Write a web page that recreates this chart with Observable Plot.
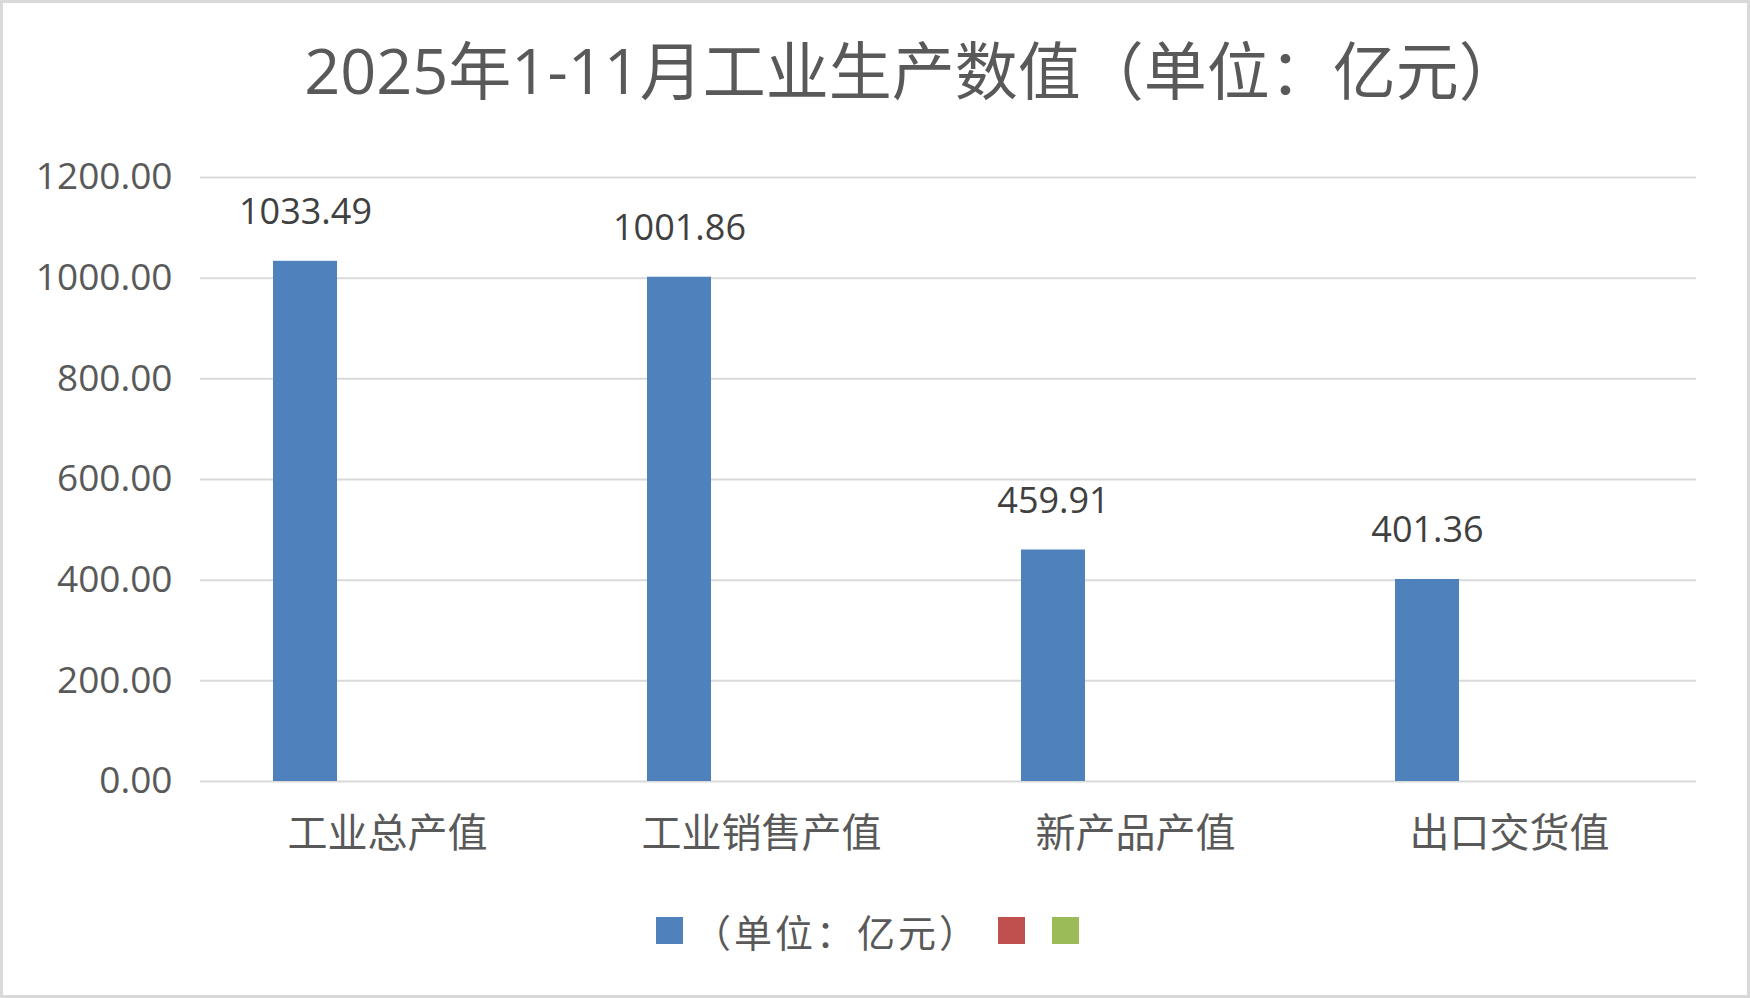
<!DOCTYPE html>
<html>
<head>
<meta charset="utf-8">
<script src="https://cdn.jsdelivr.net/npm/d3@7"></script>
<script src="https://cdn.jsdelivr.net/npm/@observablehq/plot@0.6"></script>
<style>
  html, body { margin: 0; padding: 0; background: #fff; }
  #wrap { position: relative; width: 1750px; height: 998px; background: #fff; overflow: hidden; }
  #frame { position: absolute; left: 0; top: 0; width: 1750px; height: 998px; box-sizing: border-box; border: 3px solid #d9d9d9; pointer-events: none; }
  #title { position: absolute; left: 38px; top: 38px; width: 1750px; text-align: center; font-size: 63px; line-height: 63px; color: #595959; font-family: "Open Sans", "Noto Sans CJK SC", sans-serif; white-space: nowrap; }
  #chart { position: absolute; left: 0; top: 110px; }
  #legend { position: absolute; left: 656px; top: 910px; height: 40px; display: flex; align-items: center; font-family: "Noto Sans CJK SC", sans-serif; font-size: 38px; letter-spacing: 3px; color: #595959; }
  .sw { width: 27px; height: 27px; display: inline-block; }
</style>
</head>
<body>
<div id="wrap">
  <div id="title"></div>
  <div id="chart"></div>
  <div id="legend"></div>
  <div id="frame"></div>
</div>
<script>
const titleText = "2025年1-11月工业生产数值（单位：亿元）";
const categories = ["工业总产值", "工业销售产值", "新产品产值", "出口交货值"];
const values = [1033.49, 1001.86, 459.91, 401.36];
const seriesIdx = [0, 1, 2];
const seriesLabels = ["（单位：亿元）", "", ""];
const seriesColors = ["#4f81bd", "#c0504d", "#9bbb59"];
const yTicks = [0, 200, 400, 600, 800, 1000, 1200];

document.getElementById("title").textContent = titleText;

const rows = categories.map((c, i) => ({category: c, series: 0, value: values[i]}));

const chart = Plot.plot({
  width: 1750,
  height: 760,
  marginTop: 67,
  marginBottom: 89,
  marginLeft: 198,
  marginRight: 53,
  style: {fontFamily: "'Open Sans','Noto Sans CJK SC',sans-serif", overflow: "visible", background: "transparent"},
  fx: {domain: categories, padding: 0},
  x: {domain: seriesIdx, paddingInner: 0.2157, paddingOuter: 0.8688, axis: null},
  y: {domain: [0, 1200]},
  color: {type: "ordinal", domain: seriesIdx, range: seriesColors},
  marks: [
    Plot.gridY(yTicks, {stroke: "#d9d9d9", strokeOpacity: 1, strokeWidth: 2}),
    Plot.axisY(yTicks, {tickSize: 0, tickPadding: 28, tickFormat: d => d.toFixed(2), fontSize: 37, fill: "#595959", label: null}),
    Plot.axisFx({anchor: "bottom", tickSize: 0, tickPadding: 37, fontSize: 40, fill: "#595959", label: null, fontFamily: "Noto Sans CJK SC"}),
    Plot.barY(rows, {fx: "category", x: "series", y: "value", fill: "series"}),
    Plot.text(rows, {fx: "category", x: "series", y: "value", text: d => d.value.toFixed(2), dy: -37, lineAnchor: "bottom", fontSize: 36, fill: "#404040"})
  ]
});
document.getElementById("chart").appendChild(chart);

const legend = document.getElementById("legend");
seriesIdx.forEach((s, i) => {
  const sw = document.createElement("span");
  sw.className = "sw";
  sw.style.background = seriesColors[i];
  sw.style.marginRight = seriesLabels[i] ? "10px" : (i < seriesIdx.length - 1 ? "27px" : "0");
  legend.appendChild(sw);
  if (seriesLabels[i]) {
    const t = document.createElement("span");
    t.textContent = seriesLabels[i];
    t.style.marginRight = "18px";
    legend.appendChild(t);
  }
});
</script>
</body>
</html>
